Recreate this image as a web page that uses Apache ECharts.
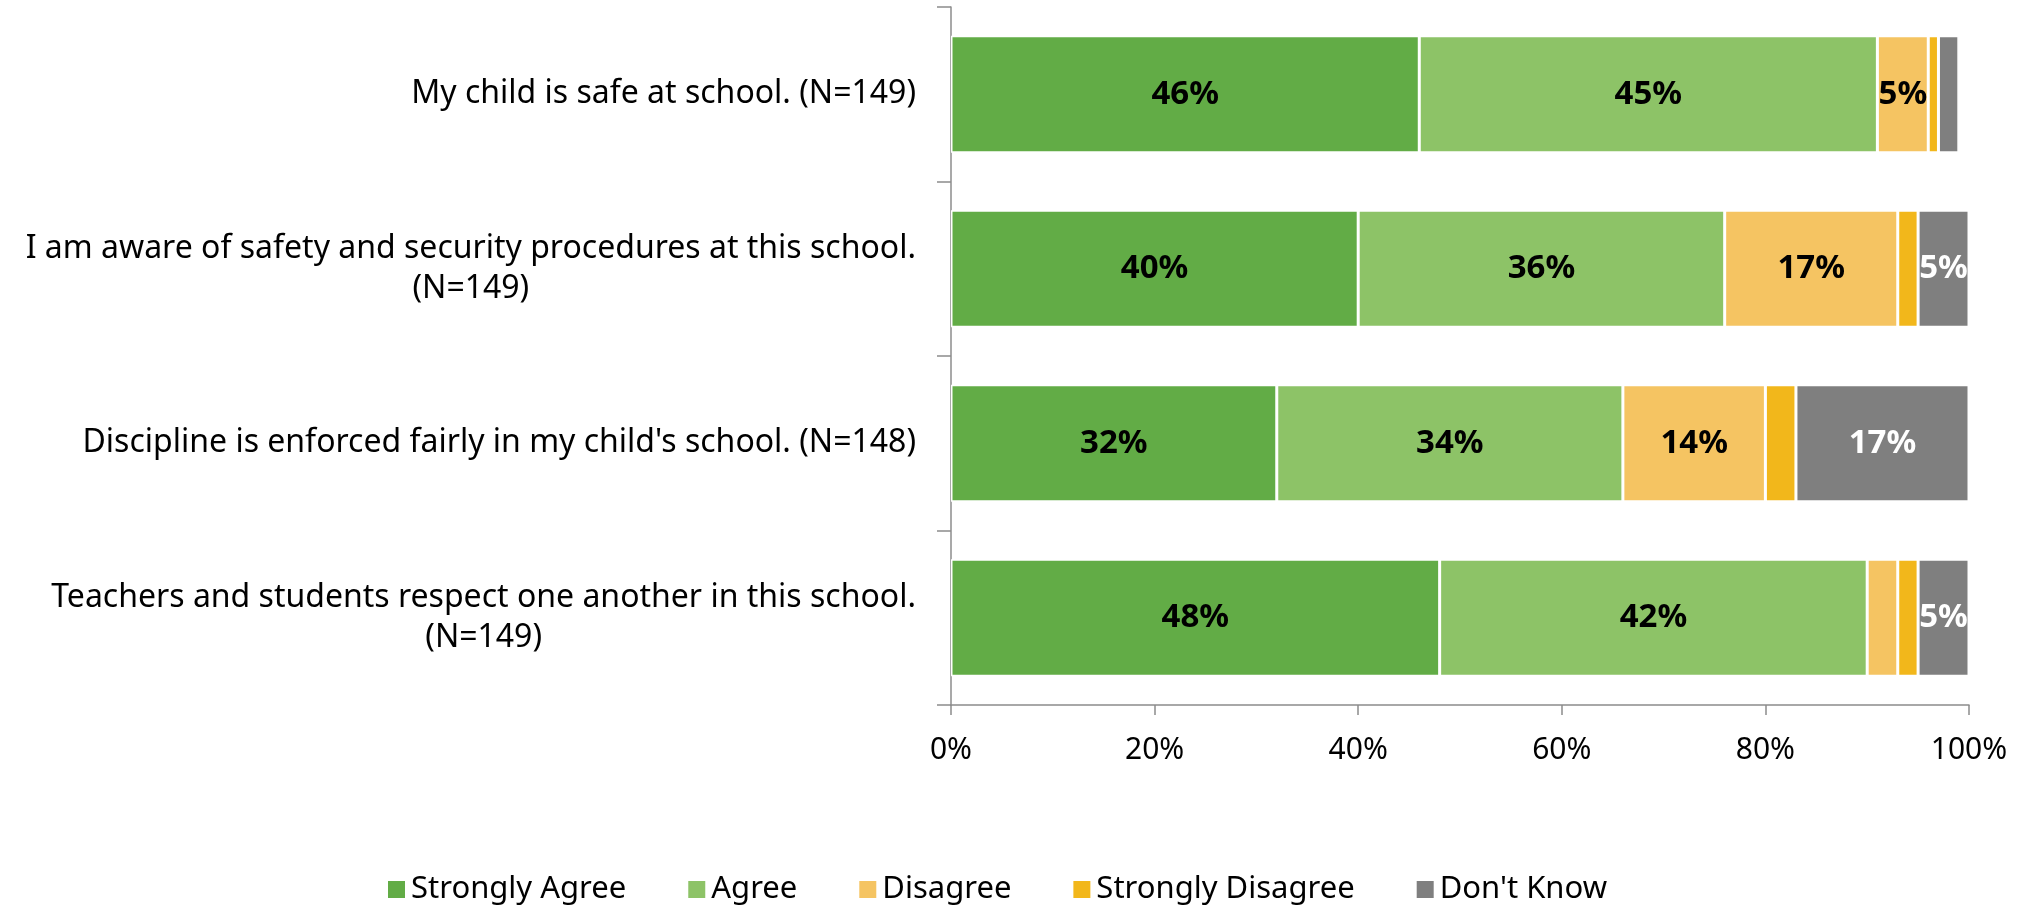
<!DOCTYPE html>
<html>
<head>
<meta charset="utf-8">
<script src="https://cdn.jsdelivr.net/npm/echarts@6/dist/echarts.min.js"></script>
<style>
html,body{margin:0;padding:0;background:#fff;}
#chart{width:2030px;height:910px;}
</style>
</head>
<body>
<div id="chart"></div>
<script>
const categories = [
  "My child is safe at school. (N=149)",
  "I am aware of safety and security procedures at this school.\n(N=149)",
  "Discipline is enforced fairly in my child's school. (N=148)",
  "Teachers and students respect one another in this school.\n(N=149)"
];
const seriesNames = ["Strongly Agree", "Agree", "Disagree", "Strongly Disagree", "Don't Know"];
const stronglyAgree = [46, 40, 32, 48];
const agree = [45, 36, 34, 42];
const disagree = [5, 17, 14, 3];
const stronglyDisagree = [1, 2, 3, 2];
const dontKnow = [2, 5, 17, 5];
const xTicks = [0, 20, 40, 60, 80, 100];

const colors = ["#62AC46", "#8DC367", "#F5C462", "#F2B71B", "#7F7F7F"];
const labelColors = ["#000", "#000", "#000", "#000", "#fff"];
const FONT = "'Noto Sans', sans-serif";
const LABEL_SIZE = 32;

// measure lines for centered multi-line labels
const cv = document.createElement('canvas').getContext('2d');
cv.font = LABEL_SIZE + "px 'Noto Sans'";
const rich = {};
const catLabels = categories.map((c, i) => {
  const lines = c.split("\n");
  const w = Math.max(...lines.map(l => cv.measureText(l).width)) + 2;
  rich['l' + i] = { width: w, align: 'center', fontSize: LABEL_SIZE, fontFamily: FONT, color: '#000', lineHeight: 40 };
  return lines.map(l => '{l' + i + '|' + l + '}').join("\n");
});

const allData = [stronglyAgree, agree, disagree, stronglyDisagree, dontKnow];
const series = seriesNames.map((name, k) => ({
  name: name,
  type: 'bar',
  stack: 'total',
  barCategoryGap: '33%',
  data: allData[k],
  itemStyle: { color: colors[k], borderColor: '#fff', borderWidth: 1.5 },
  label: {
    show: true,
    position: 'inside',
    fontFamily: FONT,
    fontWeight: 'bold',
    fontSize: 33,
    color: labelColors[k],
    formatter: p => p.value >= 5 ? p.value + '%' : ''
  }
}));

const chart = echarts.init(document.getElementById('chart'));
chart.setOption({
  animation: false,
  color: colors,
  grid: { left: 951, right: 61, top: 7, bottom: 205, containLabel: false },
  legend: {
    bottom: 0,
    left: 381,
    itemWidth: 19,
    itemHeight: 19,
    itemGap: 60,
    icon: 'rect',
    textStyle: { fontFamily: FONT, fontSize: 31, color: '#000' },
    data: seriesNames
  },
  xAxis: {
    type: 'value',
    min: 0,
    max: 100,
    interval: 20,
    axisLine: { show: true, lineStyle: { color: '#8c8c8c', width: 1.5 } },
    axisTick: { show: true, length: 10, lineStyle: { color: '#8c8c8c', width: 1.5 } },
    splitLine: { show: false },
    axisLabel: { formatter: v => xTicks.includes(v) ? v + '%' : '', fontFamily: FONT, fontSize: 30, color: '#000', margin: 30 }
  },
  yAxis: {
    type: 'category',
    inverse: true,
    data: catLabels,
    axisLine: { show: true, lineStyle: { color: '#8c8c8c', width: 1.5 } },
    axisTick: { show: true, length: 14, lineStyle: { color: '#8c8c8c', width: 1.5 } },
    axisLabel: { align: 'right', margin: 34, rich: rich, fontFamily: FONT, fontSize: LABEL_SIZE, color: '#000' }
  },
  series: series
});
</script>
</body>
</html>
